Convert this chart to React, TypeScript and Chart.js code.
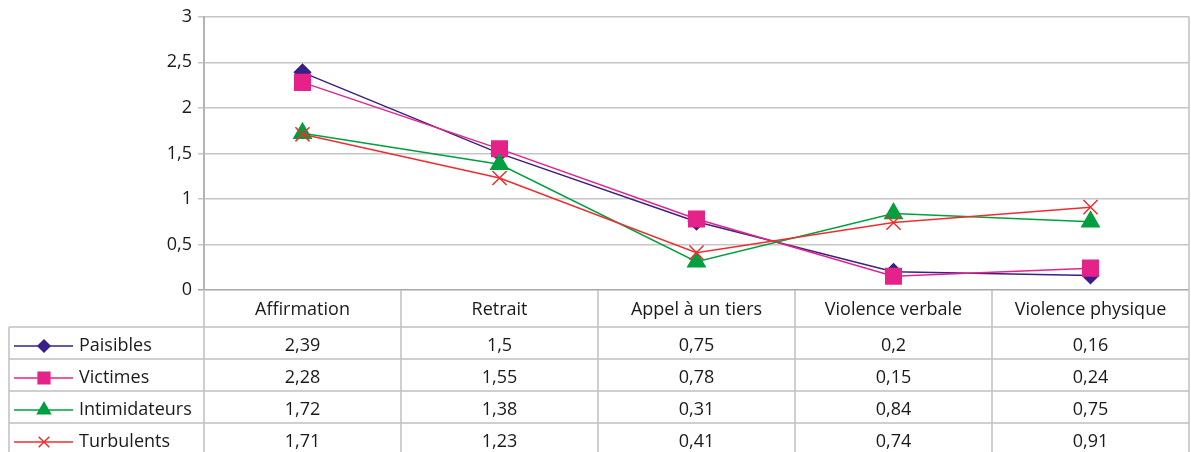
import React, { useEffect, useRef } from "react";
import { Chart, registerables } from "chart.js";
import { drawPoint } from "chart.js/helpers";

Chart.register(...registerables);

const categories = ["Affirmation", "Retrait", "Appel à un tiers", "Violence verbale", "Violence physique"];
const seriesNames = ["Paisibles", "Victimes", "Intimidateurs", "Turbulents"];
const paisibles = [2.39, 1.5, 0.75, 0.2, 0.16];
const victimes = [2.28, 1.55, 0.78, 0.15, 0.24];
const intimidateurs = [1.72, 1.38, 0.31, 0.84, 0.75];
const turbulents = [1.71, 1.23, 0.41, 0.74, 0.91];
const yTicks = [0, 0.5, 1, 1.5, 2, 2.5, 3];

const seriesValues = [paisibles, victimes, intimidateurs, turbulents];
const colors = ["#3B1F86", "#E5228A", "#00A03E", "#EE2E2E"];
const pointStyles = ["rectRot", "rect", "triangle", "crossRot"];
const pointRadii = [8, 11, 10, 10];

const FONT = "'Open Sans', sans-serif";
const FONT_SIZE = 18;
const TEXT = "#1a1a1a";
const LINE = "#c0c0c0";

const fmt = (v: number) => String(v).replace(".", ",");

const tablePlugin = {
  id: "dataTable",
  afterDraw(chart: any) {
    const { ctx, chartArea: ca, scales } = chart;
    const xs = scales.x;
    const n = categories.length;
    const colW = (ca.right - ca.left) / n;
    const headerTop = ca.bottom;
    const headerBottom = ca.bottom + 37;
    const rowH = 32;
    const tableLeft = 9;
    const tableBottom = chart.height + 5;
    ctx.save();
    ctx.lineWidth = 1.5;
    ctx.strokeStyle = LINE;
    ctx.beginPath();
    ctx.moveTo(ca.right, ca.top);
    ctx.lineTo(ca.right, tableBottom);
    for (let i = 0; i < n; i++) {
      const bx = ca.left + i * colW;
      ctx.moveTo(bx, headerTop);
      ctx.lineTo(bx, tableBottom);
    }
    ctx.moveTo(tableLeft, headerBottom);
    ctx.lineTo(tableLeft, tableBottom);
    for (let r = 0; r <= seriesNames.length; r++) {
      const y = headerBottom + r * rowH;
      ctx.moveTo(tableLeft, y);
      ctx.lineTo(ca.right, y);
    }
    ctx.stroke();

    ctx.fillStyle = TEXT;
    ctx.font = `${FONT_SIZE}px ${FONT}`;
    ctx.textAlign = "center";
    ctx.textBaseline = "middle";
    categories.forEach((c, i) => {
      ctx.fillText(c, xs.getPixelForValue(i), (headerTop + headerBottom) / 2 + 1);
    });
    seriesNames.forEach((name, r) => {
      const cy = headerBottom + r * rowH + rowH / 2 + 3;
      seriesValues[r].forEach((v, i) => {
        ctx.fillStyle = TEXT;
        ctx.textAlign = "center";
        ctx.fillText(fmt(v), xs.getPixelForValue(i), cy);
      });
      ctx.strokeStyle = colors[r];
      ctx.lineWidth = 1.5;
      ctx.beginPath();
      ctx.moveTo(14, cy);
      ctx.lineTo(73, cy);
      ctx.stroke();
      ctx.fillStyle = colors[r];
      drawPoint(
        ctx,
        { pointStyle: pointStyles[r], radius: pointRadii[r] * 0.75, borderWidth: 1.5, rotation: 0 } as any,
        44,
        cy
      );
      ctx.fillStyle = TEXT;
      ctx.textAlign = "left";
      ctx.fillText(name, 79, cy);
    });
    ctx.restore();
  },
};

export default function App() {
  const ref = useRef<HTMLCanvasElement | null>(null);
  useEffect(() => {
    if (!ref.current) return;
    const chart = new Chart(ref.current, {
      type: "line",
      data: {
        labels: categories,
        datasets: seriesNames.map((name, i) => ({
          label: name,
          data: seriesValues[i],
          borderColor: colors[i],
          backgroundColor: colors[i],
          borderWidth: 1.5,
          pointStyle: pointStyles[i] as any,
          pointRadius: pointRadii[i],
          pointBorderWidth: 1.5,
          pointHoverRadius: pointRadii[i],
          order: 4 - i,
          tension: 0,
        })),
      },
      options: {
        responsive: false,
        animation: false,
        devicePixelRatio: 1,
        layout: { autoPadding: false, padding: { top: 15, right: 2, bottom: 162, left: 0 } },
        plugins: { legend: { display: false }, tooltip: { enabled: false } },
        scales: {
          x: { display: false, offset: true },
          y: {
            min: 0,
            max: 3,
            afterFit: (s: any) => {
              s.width = 204;
            },
            afterBuildTicks: (s: any) => {
              s.ticks = yTicks.map((v) => ({ value: v }));
            },
            border: { display: true, color: "#b4b4b4", width: 2 },
            grid: {
              color: (c: any) => (c.tick && c.tick.value === 0 ? "#a8a8a8" : "#c6c6c6"),
              lineWidth: 1.5,
              tickLength: 6,
            },
            ticks: {
              padding: 6,
              color: TEXT,
              font: { family: FONT, size: FONT_SIZE },
              callback: (v: any) => fmt(Number(v)),
            },
          },
        },
      },
      plugins: [tablePlugin],
    });
    return () => chart.destroy();
  }, []);
  return (
    <div style={{ position: "absolute", left: 0, top: 0, width: 1191, height: 452, background: "#fff" }}>
      <canvas ref={ref} width={1191} height={452} style={{ display: "block" }} />
    </div>
  );
}
